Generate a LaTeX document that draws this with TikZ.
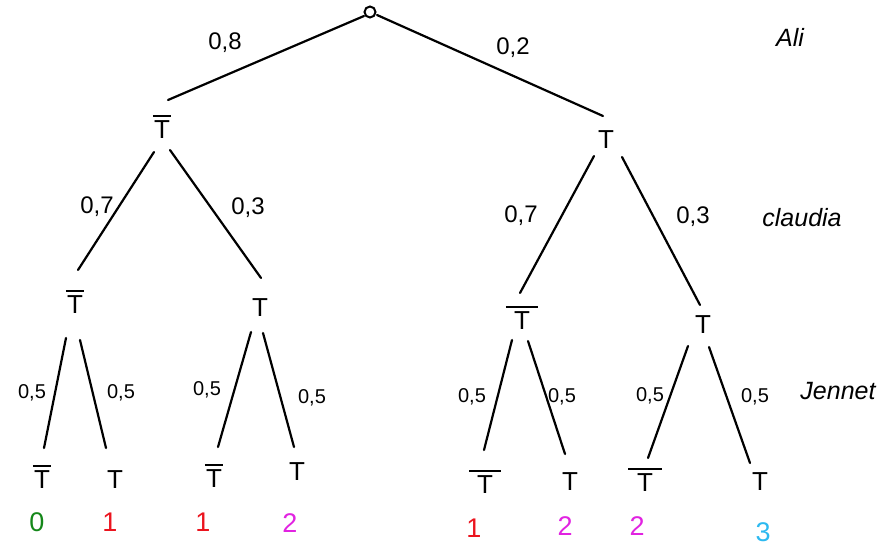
\documentclass[tikz,border=0pt]{standalone}
\usepackage{fontspec}
\setmainfont{Liberation Sans}
\definecolor{cgreen}{RGB}{20,135,25}
\definecolor{cred}{RGB}{235,20,30}
\definecolor{cmag}{RGB}{225,35,225}
\definecolor{ccyan}{RGB}{45,185,240}
\newcommand{\Tb}[1][0.7em]{\makebox[0pt][l]{\makebox[0.611em][c]{\rule[0.84em]{#1}{0.075em}}}T}
\begin{document}
\begin{tikzpicture}[x=1pt,y=-1pt,
  edge/.style={line width=2.2pt,line cap=round},
  tnode/.style={inner sep=0pt,font=\fontsize{26}{26}\selectfont},
  prob/.style={inner sep=0pt,font=\fontsize{24}{24}\selectfont},
  probs/.style={inner sep=0pt,font=\fontsize{20}{20}\selectfont},
  who/.style={inner sep=0pt,font=\fontsize{25}{25}\selectfont\itshape},
  res/.style={inner sep=0pt,font=\fontsize{27}{27}\selectfont}]
\useasboundingbox (0,0) rectangle (880,551);
% nodes
\node[circle,draw,line width=2pt,minimum width=11pt,minimum height=9pt,inner sep=0pt] (r) at (370,12) {};
\node[tnode] (a) at (162,127) {\Tb};
\node[tnode] (b) at (606,140) {T};
\node[tnode] (aa) at (75,302) {\Tb};
\node[tnode] (ab) at (260,308) {T};
\node[tnode] (ba) at (522,318) {\Tb[1.25em]};
\node[tnode] (bb) at (703,325) {T};
\node[tnode] (aaa) at (42,477) {\Tb};
\node[tnode] (aab) at (115,480) {T};
\node[tnode] (aba) at (214,476) {\Tb};
\node[tnode] (abb) at (297,472) {T};
\node[tnode] (baa) at (485,482) {\Tb[1.2em]};
\node[tnode] (bab) at (570,482) {T};
\node[tnode] (bba) at (645,480) {\Tb[1.3em]};
\node[tnode] (bbb) at (760,482) {T};
% edges
\draw[edge] ([shift={(-6,4)}]r.center) -- ([shift={(6,-27)}]a.center);
\draw[edge] ([shift={(7,3)}]r.center) -- ([shift={(-3,-24)}]b.center);
\draw[edge] ([shift={(-8,25)}]a.center) -- ([shift={(3,-32)}]aa.center);
\draw[edge] ([shift={(8,23)}]a.center) -- ([shift={(1,-30)}]ab.center);
\draw[edge] ([shift={(-12,16)}]b.center) -- ([shift={(-2,-25)}]ba.center);
\draw[edge] ([shift={(16,17)}]b.center) -- ([shift={(-3,-20)}]bb.center);
\draw[edge] ([shift={(-9,36)}]aa.center) -- ([shift={(2,-29)}]aaa.center);
\draw[edge] ([shift={(5,38)}]aa.center) -- ([shift={(-9,-32)}]aab.center);
\draw[edge] ([shift={(-9,24)}]ab.center) -- ([shift={(4,-29)}]aba.center);
\draw[edge] ([shift={(3,25)}]ab.center) -- ([shift={(-3,-25)}]abb.center);
\draw[edge] ([shift={(-10,22)}]ba.center) -- ([shift={(-1,-32)}]baa.center);
\draw[edge] ([shift={(6,23)}]ba.center) -- ([shift={(-5,-28)}]bab.center);
\draw[edge] ([shift={(-15,21)}]bb.center) -- ([shift={(3,-22)}]bba.center);
\draw[edge] ([shift={(6,22)}]bb.center) -- ([shift={(-10,-19)}]bbb.center);
% probabilities
\node[prob] (p1) at (225,43) {0,8};
\node[prob] (p2) at (513,48) {0,2};
\node[prob] (p3) at (97,207) {0,7};
\node[prob] (p4) at (248,208) {0,3};
\node[prob] (p5) at (521,216) {0,7};
\node[prob] (p6) at (693,217) {0,3};
\node[probs] (q1) at (32,393) {0,5};
\node[probs] (q2) at (121,393) {0,5};
\node[probs] (q3) at (207,390) {0,5};
\node[probs] (q4) at (312,398) {0,5};
\node[probs] (q5) at (472,397) {0,5};
\node[probs] (q6) at (562,397) {0,5};
\node[probs] (q7) at (650,396) {0,5};
\node[probs] (q8) at (755,397) {0,5};
% names
\node[who] (n1) at (790,37) {Ali};
\node[who] (n2) at (802,218) {claudia};
\node[who] (n3) at (838,391) {Jennet};
% results
\node[res,text=cgreen] (s1) at (37,522) {0};
\node[res,text=cred] (s2) at (110,522) {1};
\node[res,text=cred] (s3) at (203,522) {1};
\node[res,text=cmag] (s4) at (290,523) {2};
\node[res,text=cred] (s5) at (474,528) {1};
\node[res,text=cmag] (s6) at (565,526) {2};
\node[res,text=cmag] (s7) at (637,526) {2};
\node[res,text=ccyan] (s8) at (763,532) {3};
\end{tikzpicture}
\end{document}
